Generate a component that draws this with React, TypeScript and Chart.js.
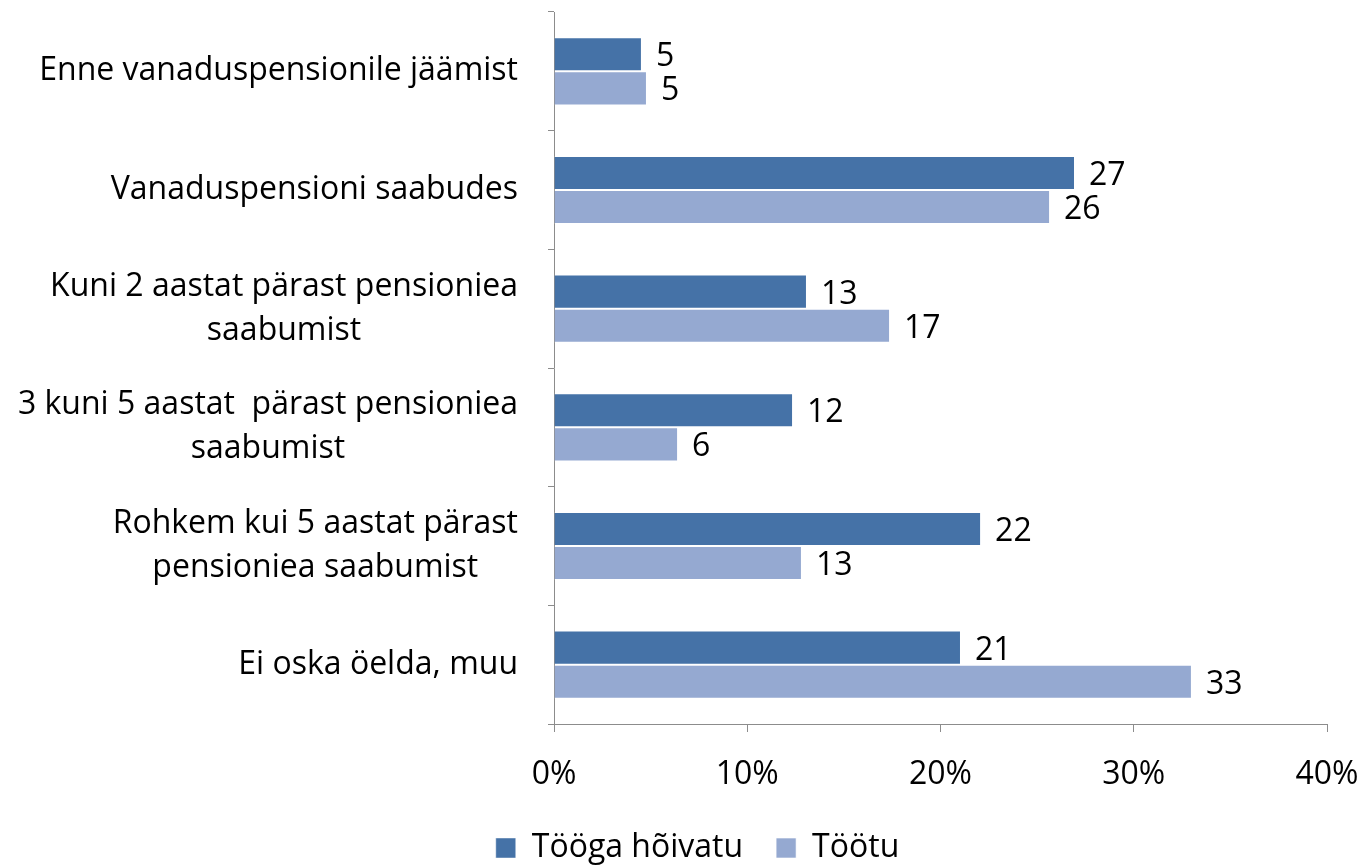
import React, { useEffect, useRef } from "react";
import { Chart, registerables } from "chart.js";

Chart.register(...registerables);

const categories: string[][] = [
  ["Enne vanaduspensionile jäämist"],
  ["Vanaduspensioni saabudes"],
  ["Kuni 2 aastat pärast pensioniea", "saabumist"],
  ["3 kuni 5 aastat  pärast pensioniea", "saabumist"],
  ["Rohkem kui 5 aastat pärast", "pensioniea saabumist"],
  ["Ei oska öelda, muu"],
];
const employed = [4.55, 26.96, 13.09, 12.37, 22.1, 21.06];
const unemployed = [4.81, 25.67, 17.39, 6.42, 12.83, 33.01];
const seriesNames = ["Tööga hõivatu", "Töötu"];
const seriesColors = ["#4572A7", "#95A9D1"];
const xMin = 0;
const xMax = 40;
const xStep = 10;

const FONT = "'Open Sans', 'Noto Sans', sans-serif";
const FONT_SIZE = 32;

const yLabelPlugin = {
  id: "yLabels",
  afterDraw(chart: any) {
    const ctx = chart.ctx;
    const y = chart.scales.y;
    const right = chart.chartArea.left - 36;
    const lh = 44;
    ctx.save();
    ctx.font = `${FONT_SIZE}px ${FONT}`;
    ctx.fillStyle = "#000";
    ctx.textBaseline = "middle";
    ctx.textAlign = "center";
    categories.forEach((lines, i) => {
      const cy = y.getPixelForValue(i);
      const w = Math.max(...lines.map((l) => ctx.measureText(l).width));
      const cx = right - w / 2;
      lines.forEach((l, j) => {
        ctx.fillText(l, cx, cy + (j - (lines.length - 1) / 2) * lh);
      });
    });
    ctx.restore();
  },
};

const dataLabelPlugin = {
  id: "dataLabels",
  afterDatasetsDraw(chart: any) {
    const ctx = chart.ctx;
    ctx.save();
    ctx.font = `${FONT_SIZE}px ${FONT}`;
    ctx.fillStyle = "#000";
    ctx.textBaseline = "middle";
    ctx.textAlign = "left";
    chart.data.datasets.forEach((ds: any, di: number) => {
      const meta = chart.getDatasetMeta(di);
      meta.data.forEach((bar: any, i: number) => {
        ctx.fillText(String(Math.round(ds.data[i])), bar.x + 14, bar.y + 3);
      });
    });
    ctx.restore();
  },
};

export default function App() {
  const ref = useRef<HTMLCanvasElement | null>(null);
  useEffect(() => {
    if (!ref.current) return;
    const chart = new Chart(ref.current, {
      type: "bar",
      data: {
        labels: categories.map((c) => c.join(" ")),
        datasets: [
          {
            label: seriesNames[0],
            data: employed,
            backgroundColor: seriesColors[0],
            borderColor: "rgba(255,255,255,0.45)",
            borderWidth: 1,
            categoryPercentage: 0.574,
            barPercentage: 1,
          },
          {
            label: seriesNames[1],
            data: unemployed,
            backgroundColor: seriesColors[1],
            borderColor: "rgba(255,255,255,0.6)",
            borderWidth: 1,
            categoryPercentage: 0.574,
            barPercentage: 1,
          },
        ],
      },
      options: {
        indexAxis: "y",
        animation: false,
        responsive: true,
        maintainAspectRatio: false,
        layout: { padding: { left: 68, right: 36, top: 12, bottom: -9 } },
        scales: {
          y: {
            type: "category",
            offset: true,
            ticks: { display: false },
            grid: {
              offset: true,
              drawOnChartArea: false,
              drawTicks: true,
              tickLength: 6,
              color: "#8c8c8c",
            },
            border: { color: "#8c8c8c", width: 1 },
            afterFit: (s: any) => {
              s.width = 486;
            },
          },
          x: {
            min: xMin,
            max: xMax,
            ticks: {
              stepSize: xStep,
              callback: (v: any) => `${v}%`,
              font: { family: FONT, size: FONT_SIZE },
              color: "#000",
              padding: 24,
              maxRotation: 0,
            },
            grid: {
              drawOnChartArea: false,
              drawTicks: true,
              tickLength: 8,
              color: "#8c8c8c",
            },
            border: { color: "#8c8c8c", width: 1 },
            afterFit: (s: any) => {
              s.height = 75;
              s.paddingRight = 0;
              s.paddingLeft = 0;
            },
          },
        },
        plugins: {
          legend: {
            position: "bottom",
            labels: {
              boxWidth: 20,
              boxHeight: 20,
              padding: 33,
              color: "#000",
              font: { family: FONT, size: FONT_SIZE },
            },
          },
          tooltip: { enabled: false },
        },
      },
      plugins: [yLabelPlugin, dataLabelPlugin],
    });
    return () => chart.destroy();
  }, []);
  return (
    <div style={{ position: "fixed", left: 0, top: 0, width: 1363, height: 865 }}>
      <canvas ref={ref} />
    </div>
  );
}
